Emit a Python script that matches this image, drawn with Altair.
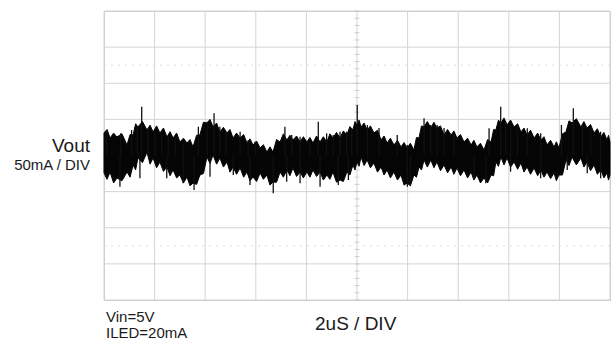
import altair as alt
import pandas as pd

# ---- waveform core envelope (time in µs, current in mA; 2 µs/div, 50 mA/div) ----
t_env = [0.0, 0.24, 0.51, 0.91, 1.15, 1.34, 1.70, 1.94, 2.21, 2.49, 2.73, 3.00, 3.28, 3.52,
         3.79, 4.07, 4.31, 4.58, 4.86, 5.10, 5.38, 5.65, 5.89, 6.17, 6.44, 6.68, 6.96, 7.23,
         7.47, 7.75, 8.02, 8.26, 8.54, 8.81, 9.05, 9.33, 9.60, 9.84, 10.0, 10.16, 10.40, 10.67,
         10.95, 11.19, 11.46, 11.74, 11.98, 12.25, 12.45, 12.65, 12.92, 13.16, 13.44, 13.72,
         13.95, 14.23, 14.51, 14.74, 15.02, 15.30, 15.49, 15.69, 15.93, 16.21, 16.48, 16.72,
         17.00, 17.27, 17.51, 17.79, 17.98, 18.26, 18.50, 18.85, 19.09, 19.37, 19.64, 19.88, 20.0]
top_env = [31.2, 24.2, 25.6, 14.5, 28.4, 39.5, 35.3, 32.6, 31.2, 25.6, 24.2, 18.7, 17.3, 11.8,
           28.4, 45.0, 39.5, 32.6, 31.2, 24.2, 24.2, 17.3, 14.5, 10.4, 4.8, 4.8, 18.7, 21.5,
           21.5, 18.7, 18.7, 17.3, 18.7, 18.7, 24.2, 24.2, 28.4, 35.3, 42.2, 39.5, 35.3, 31.2,
           21.5, 17.3, 14.5, 11.8, 10.4, 7.6, 24.2, 39.5, 38.1, 38.1, 28.4, 28.4,
           24.2, 18.7, 14.5, 11.8, 7.6, 18.7, 35.3, 45.0, 42.2, 39.5, 32.6, 28.4,
           24.2, 21.5, 14.5, 11.8, 10.4, 32.6, 45.0, 39.5, 38.1, 31.2, 25.6, 21.5, 18.7]
bot_env = [-24.2, -22.9, -31.2, -22.9, -13.2, -3.5, 4.8, -3.5, -9.0, -15.9, -20.1, -27.0, -29.8, -38.1,
           -27.0, -2.1, 0.7, -3.5, -9.0, -15.9, -17.3, -22.9, -29.8, -24.2, -27.0, -36.7, -22.9, -20.1,
           -17.3, -22.9, -22.9, -20.1, -22.9, -27.0, -22.9, -33.9, -22.9, -13.2, -9.0, -2.1, -6.2, -10.4,
           -15.9, -20.1, -22.9, -27.0, -38.1, -27.0, -15.9, -6.2, -6.2, -9.0, -13.2, -15.9,
           -17.3, -20.1, -22.9, -27.0, -31.2, -27.0, -9.0, -2.1, -3.5, -9.0, -10.4, -15.9,
           -17.3, -20.1, -22.9, -24.2, -27.0, -6.2, -2.1, -3.5, -9.0, -13.2, -20.1, -24.2, -27.0]

# ---- ragged outer edge of the trace, between the core samples ----
t_fuzz = [0.12, 0.38, 0.71, 1.03, 1.25, 1.52, 1.82, 2.08, 2.35, 2.61, 2.87, 3.14, 3.40, 3.66,
          3.93, 4.19, 4.45, 4.72, 4.98, 5.24, 5.52, 5.77, 6.03, 6.30, 6.56, 6.82, 7.09, 7.35,
          7.61, 7.88, 8.14, 8.40, 8.67, 8.93, 9.19, 9.46, 9.72, 9.92, 10.08, 10.28, 10.53, 10.81,
          11.07, 11.32, 11.60, 11.86, 12.11, 12.35, 12.55, 12.78, 13.04, 13.30, 13.58, 13.83,
          14.09, 14.37, 14.62, 14.88, 15.16, 15.40, 15.59, 15.81, 16.07, 16.35, 16.60, 16.86,
          17.14, 17.39, 17.65, 17.88, 18.12, 18.38, 18.67, 18.97, 19.23, 19.50, 19.76, 19.94]
hi_fuzz = [36, 31, 30, 29, 44, 47, 42, 41, 38, 33, 31, 24, 22, 28,
           46, 50, 45, 39, 36, 31, 29, 23, 20, 15, 12, 22, 30, 28,
           27, 26, 25, 27, 26, 30, 32, 34, 40, 47, 49, 45, 41, 35,
           27, 24, 21, 18, 17, 25, 41, 47, 46, 41, 36, 34,
           29, 24, 21, 17, 22, 36, 49, 52, 49, 44, 38, 35,
           31, 26, 21, 19, 30, 48, 51, 47, 43, 37, 32, 28]
lo_fuzz = [-33, -38, -35, -30, -20, -10, -12, -17, -22, -28, -31, -38, -42, -40,
           -25, -11, -12, -16, -23, -26, -30, -35, -36, -33, -41, -37, -30, -28,
           -29, -31, -30, -29, -34, -33, -37, -36, -27, -20, -15, -14, -17, -23,
           -27, -31, -34, -41, -42, -30, -20, -16, -17, -21, -24, -26,
           -28, -31, -34, -38, -38, -28, -15, -13, -16, -19, -23, -26,
           -28, -30, -32, -35, -27, -14, -13, -16, -21, -26, -31, -34]

# ---- noise spikes ----
spike_t = [0.11, 0.66, 1.09, 1.32, 1.49, 1.75, 2.02, 2.28, 2.54, 2.81, 3.13, 3.73, 4.08, 4.35,
           4.58, 4.82, 5.38, 5.70, 5.97, 7.15, 7.42, 7.75, 8.14, 8.47, 8.80, 9.06, 9.33, 9.59,
           9.79, 10.01, 10.41, 10.87, 11.59, 11.99, 12.65, 12.91, 13.17, 13.44, 13.83, 15.22,
           15.68, 15.88, 16.07, 16.34, 16.73, 17.26, 18.08, 18.55, 18.91, 19.24, 19.63,
           0.63, 1.42, 2.48, 3.13, 3.56, 4.19, 5.11, 5.77, 6.69, 7.22, 7.75, 8.54, 9.26, 9.66,
           11.99, 12.12, 14.62, 15.09, 16.07, 17.26, 18.31, 19.10, 19.63]
spike_v = [33.0, 30.7, 35.3, 39.9, 67.6, 37.7, 33.0, 30.7, 26.0, 23.8, 16.9, 39.9, 46.8, 58.4,
           39.9, 33.0, 33.0, 21.5, 19.1, 39.9, 28.4, 26.0, 19.1, 46.8, 30.7, 28.4, 33.0, 33.0,
           37.7, 69.9, 42.0, 38.0, 28.4, 14.5, 51.5, 42.2, 42.2, 38.0, 30.7, 37.7,
           67.6, 46.8, 46.8, 42.2, 37.7, 30.7, 42.2, 65.4, 42.2, 37.7, 33.0,
           -43.2, -31.6, -31.6, -38.5, -47.8, -29.4, -27.0, -40.9, -52.4, -36.3, -38.5, -43.2, -40.9, -33.9,
           -43.2, -38.5, -31.2, -38.5, -22.4, -31.6, -20.1, -24.6, -31.6]

# ---- graticule ----
x_grid = [0, 2, 4, 6, 8, 10, 12, 14, 16, 18, 20]          # µs, one line per division
y_grid = [-200, -150, -100, -50, 0, 50, 100, 150, 200]    # mA, one line per division
y_dotted = [125, -125]
x_minor = [i * 0.4 for i in range(51)]                    # 5 minor ticks per division
y_minor = [i * 10 for i in range(-20, 21)]

W, H = 506, 289
xs = alt.Scale(domain=[0, 20], nice=False, zero=False)
ys = alt.Scale(domain=[-200, 200], nice=False, zero=False)
GRID = "#d4d4d4"

vgrid = alt.Chart(pd.DataFrame({"t": x_grid})).mark_rule(color=GRID, strokeWidth=1).encode(
    x=alt.X("t:Q", scale=xs, axis=None))
hgrid = alt.Chart(pd.DataFrame({"v": y_grid})).mark_rule(color=GRID, strokeWidth=1).encode(
    y=alt.Y("v:Q", scale=ys, axis=None))
hdot = alt.Chart(pd.DataFrame({"v": y_dotted})).mark_rule(
    color="#dedede", strokeWidth=1, strokeDash=[2, 5]).encode(
    y=alt.Y("v:Q", scale=ys, axis=None))

xticks = alt.Chart(pd.DataFrame({"t": x_minor, "v": [0] * len(x_minor)})).mark_tick(
    orient="vertical", size=5, thickness=1, color="#bdbdbd").encode(
    x=alt.X("t:Q", scale=xs, axis=None), y=alt.Y("v:Q", scale=ys, axis=None))
yticks = alt.Chart(pd.DataFrame({"t": [10] * len(y_minor), "v": y_minor})).mark_tick(
    orient="horizontal", size=5, thickness=1, color="#bdbdbd").encode(
    x=alt.X("t:Q", scale=xs, axis=None), y=alt.Y("v:Q", scale=ys, axis=None))

env_df = pd.concat([
    pd.DataFrame({"t": t_env, "top": top_env, "bot": bot_env}),
    pd.DataFrame({"t": t_fuzz, "top": hi_fuzz, "bot": lo_fuzz}),
]).sort_values("t")
band = alt.Chart(env_df).mark_area(color="#050505", stroke="#050505", strokeWidth=1,
                                   interpolate="linear").encode(
    x=alt.X("t:Q", scale=xs, axis=None),
    y=alt.Y("top:Q", scale=ys, axis=None),
    y2="bot:Q")

sp_df = pd.DataFrame({"t": spike_t, "v": spike_v, "b": [0.0] * len(spike_t)})
spikes = alt.Chart(sp_df).mark_rule(color="#111111", strokeWidth=1.3).encode(
    x=alt.X("t:Q", scale=xs, axis=None),
    y=alt.Y("v:Q", scale=ys, axis=None),
    y2="b:Q")

one = pd.DataFrame({"a": [0]})
FONT = "Liberation Sans"
TXT = "#1a1a1a"

def label(txt, x, y, size, align="left"):
    return alt.Chart(one).mark_text(text=txt, font=FONT, fontSize=size, color=TXT,
                                    align=align, baseline="alphabetic").encode(
        x=alt.value(x), y=alt.value(y))

texts = [
    label("Vout", -14, 141, 19, "right"),
    label("50mA / DIV", -14, 159, 15, "right"),
    label("Vin=5V", 2, 311, 15),
    label("ILED=20mA", 2, 327, 15),
    label("2uS / DIV", 211, 319, 19),
]

chart = alt.layer(vgrid, hgrid, hdot, xticks, yticks, band, spikes, *texts).properties(
    width=W, height=H,
    padding={"left": 104, "top": 11, "right": 4, "bottom": 43},
    autosize=alt.AutoSizeParams(type="none"),
    background="white",
).configure_view(stroke="#cccccc", strokeWidth=1)

chart.save("out.html", embed_options={"renderer": "svg", "actions": False})
